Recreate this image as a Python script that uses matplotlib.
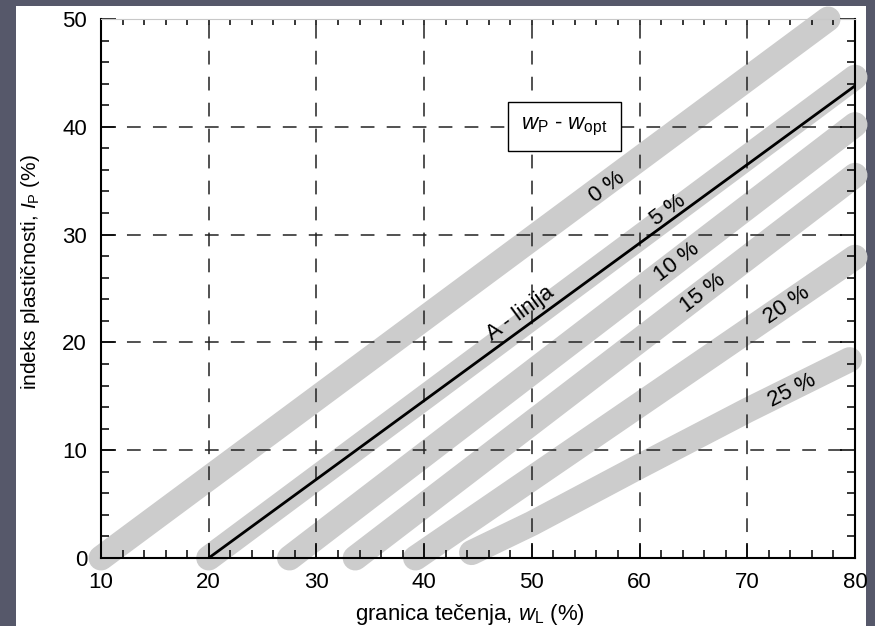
import numpy as np
import matplotlib
matplotlib.use('Agg')
import matplotlib.pyplot as plt
from matplotlib.patches import Rectangle

plt.rcParams['font.family'] = ['Liberation Sans', 'DejaVu Sans']
plt.rcParams['mathtext.fontset'] = 'custom'
plt.rcParams['mathtext.rm'] = 'Liberation Sans'
plt.rcParams['mathtext.it'] = 'Liberation Sans:italic'

# bands w_P - w_opt (liquid limit wL, plasticity index IP)
band_names = ['0 %', '5 %', '10 %', '15 %', '20 %', '25 %']
band_wl = [[10, 77.5], [20, 80], [27.5, 80], [33.6, 80], [39.2, 80],
           [44.4, 50, 60, 70, 79.5]]
band_ip = [[0, 50], [0, 44.6], [0, 40.2], [0, 35.5], [0, 27.9],
           [0.5, 3.2, 8.5, 13.7, 18.4]]
label_x = [57.0, 62.6, 63.5, 65.9, 73.7, 74.2]
label_y = [34.4, 32.3, 27.4, 24.6, 23.5, 15.5]

# A-line
a_wl = [20, 80]
a_ip = [0, 43.8]

xticks = [10, 20, 30, 40, 50, 60, 70, 80]
yticks = [0, 10, 20, 30, 40, 50]

fs = 16

fig = plt.figure(figsize=(8.75, 6.26), dpi=100, facecolor='#56586a')
fig.patches.append(Rectangle((16 / 875, 0), 850 / 875, 620 / 626,
                             transform=fig.transFigure, facecolor='white',
                             edgecolor='none', zorder=-5))
ax = fig.add_axes([101 / 875, 1 - 558 / 626, 754 / 875, 539 / 626])
ax.set_facecolor('white')
ax.set_xlim(10, 80)
ax.set_ylim(0, 50)

for wl, ip in zip(band_wl, band_ip):
    ax.plot(wl, ip, color='#cccccc', lw=18, solid_capstyle='round',
            solid_joinstyle='round', clip_on=False, zorder=1)

ax.plot(a_wl, a_ip, color='black', lw=2, zorder=3)

ax.grid(True, color='#222222', lw=1.1, dashes=(9, 8))
ax.set_xticks(xticks)
ax.set_yticks(yticks)
ax.set_xticks(np.arange(10, 81, 2), minor=True)
ax.set_yticks(np.arange(0, 51, 2), minor=True)
ax.tick_params(which='both', direction='in', top=True, right=True,
               labelsize=fs, width=1.1)
ax.tick_params(which='major', length=11)
ax.tick_params(which='minor', length=6)
ax.tick_params(axis='x', which='both', pad=10)
ax.tick_params(axis='y', which='both', pad=10)
for side in ['left', 'bottom', 'right']:
    ax.spines[side].set_linewidth(1.5)
ax.spines['top'].set_color('#c8c8c8')
for t in ax.xaxis.get_ticklines(minor=True)[1::2]:
    t.set_color('#c8c8c8')
    t.set_markersize(4)
for t in ax.xaxis.get_ticklines()[1::2]:
    t.set_color('#c8c8c8')
    t.set_markersize(4)

ax.set_xlabel(r'granica tečenja, $\it{w}_{\rm L}$ (%)', fontsize=fs)
ax.set_ylabel(r'indeks plastičnosti, $\it{I}_{\rm P}$ (%)', fontsize=15)
ax.xaxis.set_label_coords(0.49, -0.082)
ax.yaxis.set_label_coords(-0.078, 0.53)

fig.canvas.draw()


def screen_angle(x0, y0, x1, y1):
    p0 = ax.transData.transform((x0, y0))
    p1 = ax.transData.transform((x1, y1))
    return np.degrees(np.arctan2(p1[1] - p0[1], p1[0] - p0[0]))


for name, wl, ip, lx, ly in zip(band_names, band_wl, band_ip, label_x, label_y):
    ang = screen_angle(wl[0], ip[0], wl[-1], ip[-1])
    ax.text(lx, ly, name, fontsize=fs, rotation=ang, rotation_mode='anchor',
            ha='center', va='center', zorder=4)

ax.text(48.9, 22.7, 'A - linija', fontsize=fs,
        rotation=screen_angle(a_wl[0], a_ip[0], a_wl[1], a_ip[1]),
        rotation_mode='anchor', ha='center', va='center', zorder=4)

ax.text(53.0, 40.0, r'$\it{w}_{\rm P}$ - $\it{w}_{\rm opt}$', fontsize=fs,
        ha='center', va='center', zorder=5,
        bbox=dict(boxstyle='square,pad=0.6', fc='white', ec='black', lw=1))

fig.savefig('out.png', dpi=100, facecolor=fig.get_facecolor())
